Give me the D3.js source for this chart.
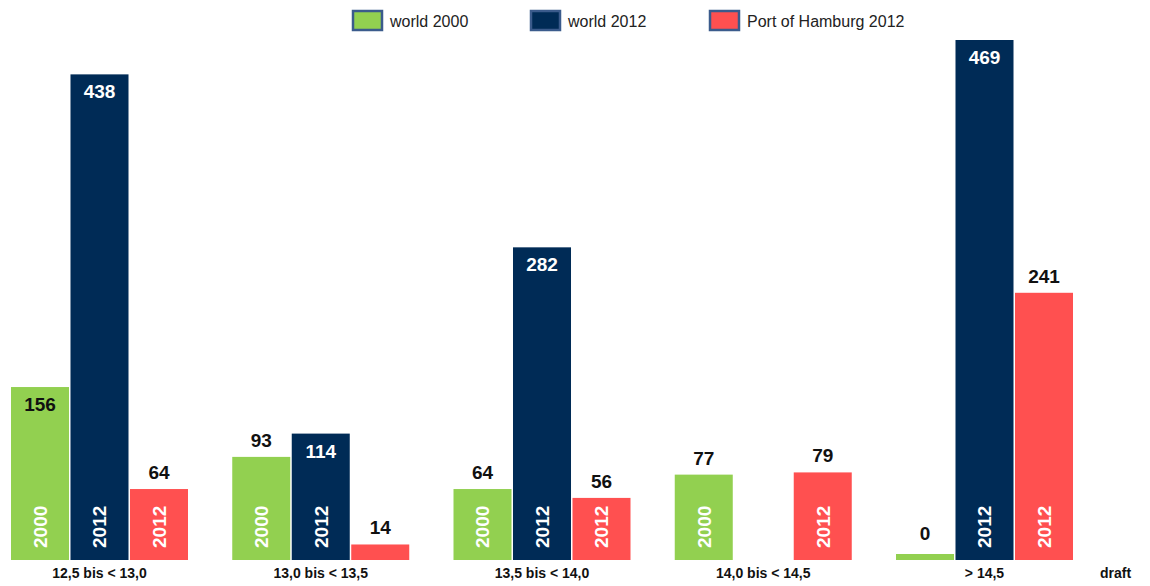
<!DOCTYPE html>
<html>
<head>
<meta charset="utf-8">
<script src="https://cdn.jsdelivr.net/npm/d3@7"></script>
<style>
  html, body { margin: 0; padding: 0; background: #fff; }
  svg { display: block; font-family: "Liberation Sans", Arial, sans-serif; }
</style>
</head>
<body>
<svg id="chart" width="1150" height="586"></svg>
<script>
// ---- data ----
const categories = ["12,5 bis < 13,0", "13,0 bis < 13,5", "13,5 bis < 14,0", "14,0 bis < 14,5", "> 14,5"];
const seriesNames = ["world 2000", "world 2012", "Port of Hamburg 2012"];
const seriesYears = ["2000", "2012", "2012"];
const world2000 = [156, 93, 64, 77, 0];
const world2012 = [438, 114, 282, null, 469];
const hamburg2012 = [64, 14, 56, 79, 241];
const axisNote = "draft";

const colors = ["#92d050", "#002b56", "#ff5050"];
const values = [world2000, world2012, hamburg2012];

const svg = d3.select("#chart");
const baseY = 560;

const x0 = d3.scaleBand().domain(categories).range([11, 1073]).paddingInner(0.2).paddingOuter(0);
const x1 = d3.scaleBand().domain(d3.range(3)).range([0, x0.bandwidth()]).paddingInner(0.025);
const y = d3.scaleLinear().domain([0, 469]).range([baseY, 40]);

// legend
const legendX = [353, 531, 710];
const leg = svg.append("g");
seriesNames.forEach((name, i) => {
  leg.append("rect")
    .attr("x", legendX[i]).attr("y", 11)
    .attr("width", 29).attr("height", 19)
    .attr("fill", colors[i])
    .attr("stroke", "#3b5b8c").attr("stroke-width", 2.5);
  leg.append("text")
    .attr("x", legendX[i] + 37).attr("y", 27)
    .attr("font-size", 16).attr("fill", "#222")
    .text(name);
});

// bars
categories.forEach((cat, ci) => {
  const g = svg.append("g").attr("transform", `translate(${x0(cat)},0)`);
  values.forEach((arr, si) => {
    const v = arr[ci];
    if (v === null) return;
    const bx = x1(si), bw = x1.bandwidth();
    const top = v === 0 ? baseY - 6 : y(v);
    const h = baseY - top;
    g.append("rect")
      .attr("x", bx).attr("y", top)
      .attr("width", bw).attr("height", h)
      .attr("fill", colors[si]);
    // value label
    const inside = si === 1 || (si === 0 && v > 150);
    g.append("text")
      .attr("x", bx + bw / 2)
      .attr("y", inside ? top + 24 : (v === 0 ? top - 14 : top - 10))
      .attr("text-anchor", "middle")
      .attr("font-size", 19).attr("font-weight", "bold")
      .attr("fill", si === 1 ? "#fff" : "#111")
      .text(v);
    // year label rotated
    if (h > 55) {
      g.append("text")
        .attr("transform", `translate(${bx + bw / 2},${baseY - 12}) rotate(-90)`)
        .attr("text-anchor", "start")
        .attr("dy", "0.36em")
        .attr("font-size", 19).attr("font-weight", "bold")
        .attr("fill", "#fff")
        .text(seriesYears[si]);
    }
  });
  svg.append("text")
    .attr("x", x0(cat) + x0.bandwidth() / 2)
    .attr("y", 578)
    .attr("text-anchor", "middle")
    .attr("font-size", 14).attr("font-weight", "bold")
    .attr("fill", "#111")
    .text(cat);
});

svg.append("text")
  .attr("x", 1100).attr("y", 578)
  .attr("font-size", 14).attr("font-weight", "bold")
  .attr("fill", "#111")
  .text(axisNote);
</script>
</body>
</html>
